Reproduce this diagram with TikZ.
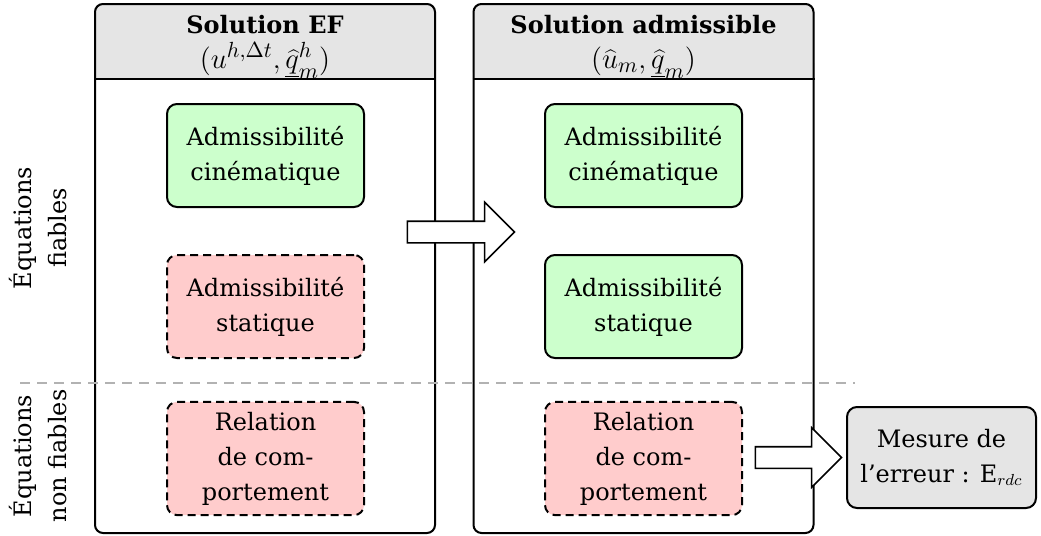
\documentclass[tikz,border=0pt]{standalone}
\usepackage{fontspec}
\setmainfont{DejaVu Serif}
\usepackage{tikz}
\usetikzlibrary{positioning,shapes,arrows,backgrounds}

\begin{document}
\begin{tikzpicture}[x=0.5pt,y=-0.5pt,
    every node/.style = {font=\fontsize{12}{17.5}\selectfont},
    panneau/.style = {draw=black, line width=1pt, rounded corners=4pt, minimum width=170pt, minimum height=264.5pt},
    fiable/.style = {draw=black, line width=1pt, rounded corners=5pt, fill=green!20, minimum width=98.5pt, minimum height=51.5pt, inner ysep=5pt, align=center},
    nonfiable/.style = {fiable, fill=red!20, dash pattern=on 4pt off 2.5pt},
    fleche/.style = {draw=black, line width=0.8pt, fill=white, single arrow, single arrow head extend=9.5pt, inner xsep=0pt, inner ysep=5pt}]
\useasboundingbox (0,0) rectangle (1041,536);
\foreach \n/\x in {EF/265, Ad/643.5}
    \node[panneau] (pan\n) at (\x,268.5) {};
\begin{scope}[on background layer]
\foreach \n in {EF, Ad} {
    \fill[gray!20, rounded corners=4pt] (pan\n.north west) rectangle ([yshift=-38pt]pan\n.north east);
    \fill[gray!20] ([yshift=-30pt]pan\n.north west) rectangle ([yshift=-38pt]pan\n.north east);
}
\end{scope}
\foreach \n in {EF, Ad}
    \draw[line width=1pt] ([yshift=-38pt]pan\n.north west) -- ([yshift=-38pt]pan\n.north east);
\node[align=center] (titEF) at (265,47) {\textbf{Solution EF}\\[0pt] \fontsize{15}{18}\selectfont$(u^{h,\Delta t},\underline{\widehat{q}}^h_m)$};
\node[align=center] (titAd) at (643.5,47) {\textbf{Solution admissible}\\[0pt] \fontsize{15}{18}\selectfont$(\widehat{u}_m,\underline{\widehat{q}}_m)$};
% separation fiable / non fiable
\coordinate (sepG) at (20,383);
\coordinate (sepD) at (855,383);
\draw[gray!60, line width=1pt, dash pattern=on 5pt off 3.5pt] (sepG) -- (sepD);
\node[rotate=90, align=center] (lblFiable) at (38,228) {Équations\\ fiables};
\node[rotate=90, align=center] (lblNonFiable) at (38,456) {Équations\\ non fiables};
\node[fiable] (cinEF) at (265.5,155.5) {Admissibilité\\ cinématique};
\node[nonfiable] (staEF) at (265.5,306.5) {Admissibilité\\ statique};
\node[nonfiable] (relEF) at (265.5,458.5) {Relation\\ de com-\\ portement};
\node[fiable] (cinAd) at (643.5,155.5) {Admissibilité\\ cinématique};
\node[fiable] (staAd) at (643.5,306.5) {Admissibilité\\ statique};
\node[nonfiable] (relAd) at (643.5,458.5) {Relation\\ de com-\\ portement};
\node[draw=black, line width=1pt, rounded corners=5pt, fill=gray!20, minimum width=94.5pt, minimum height=50.5pt, align=center] (mesure) at (941.5,457.5) {Mesure de\\ l’erreur : $\mathrm{E}_{rdc}$};
\node[fleche, minimum height=53.5pt] (flecheA) at (455.5,232) {};
\node[fleche, minimum height=43pt] (flecheB) at (793,457.5) {};
\end{tikzpicture}
\end{document}
